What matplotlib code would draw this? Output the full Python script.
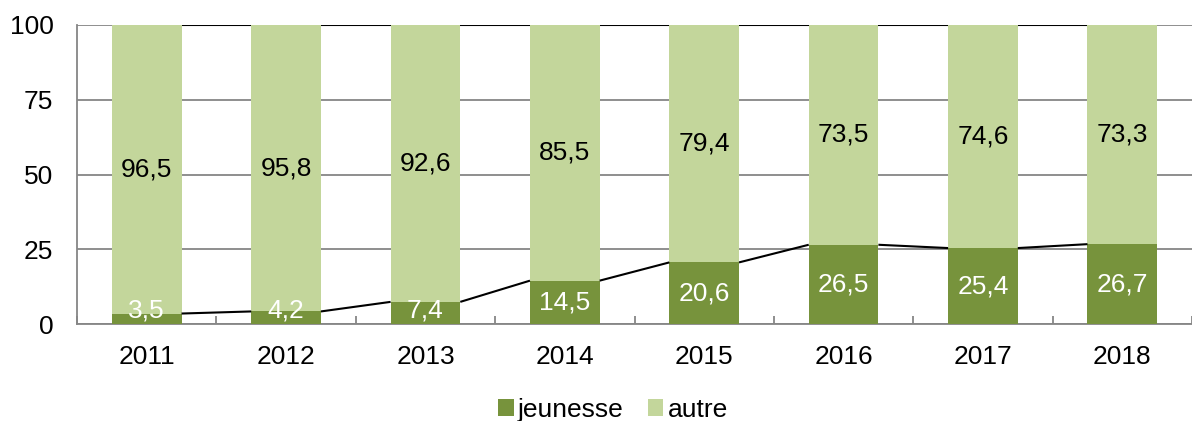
import numpy as np
import matplotlib
matplotlib.use('Agg')
import matplotlib.pyplot as plt

plt.rcParams['font.family'] = ['Liberation Sans', 'DejaVu Sans']

## data: share of youth titles vs. the rest, in percent
years = ['2011', '2012', '2013', '2014', '2015', '2016', '2017', '2018']
jeunesse = [3.5, 4.2, 7.4, 14.5, 20.6, 26.5, 25.4, 26.7]
autre = [96.5, 95.8, 92.6, 85.5, 79.4, 73.5, 74.6, 73.3]

dark = '#77933C'
light = '#C3D69B'
grey = '#868686'
fs = 19

fig = plt.figure(figsize=(11.92, 4.21), dpi=100)
ax = fig.add_axes([77 / 1192, 1 - 324 / 421, 1 - 77 / 1192, (324 - 25) / 421])

x = np.arange(len(years))
jeu = np.array(jeunesse)
tot = jeu + np.array(autre)
w = 0.5

ax.bar(x, jeunesse, w, color=dark, label='jeunesse', zorder=3)
ax.bar(x, autre, w, bottom=jeunesse, color=light, label='autre', zorder=3)

# series lines joining the segment tops of neighbouring bars
for top in (jeu, tot):
    for i in range(len(x) - 1):
        ax.plot([x[i] + w / 2, x[i + 1] - w / 2], [top[i], top[i + 1]],
                color='black', lw=1.5, zorder=4, solid_capstyle='butt')

# value labels
for i in range(len(x)):
    ax.text(x[i], max(jeunesse[i] / 2, 4.5), f'{jeunesse[i]:.1f}'.replace('.', ','),
            ha='center', va='center', color='white', fontsize=fs, zorder=5)
    ax.text(x[i], jeunesse[i] + autre[i] / 2, f'{autre[i]:.1f}'.replace('.', ','),
            ha='center', va='center', color='black', fontsize=fs, zorder=5)

ax.set_ylim(0, 100)
ax.set_xlim(-0.5, len(x) - 0.5)
ax.set_yticks([0, 25, 50, 75, 100])
ax.set_xticks(x)
ax.set_xticklabels(years)
ax.set_xticks(np.arange(-0.5, len(x), 1.0), minor=True)
ax.tick_params(axis='x', which='major', length=0, pad=15, labelsize=fs)
ax.tick_params(axis='x', which='minor', direction='in', length=6, width=1.3, color=grey)
ax.tick_params(axis='y', length=0, pad=17, labelsize=fs)

ax.grid(axis='y', color=grey, lw=1.3, zorder=0)
for s in ('top', 'right'):
    ax.spines[s].set_visible(False)
for s in ('left', 'bottom'):
    ax.spines[s].set_color(grey)
    ax.spines[s].set_linewidth(1.3)
    ax.spines[s].set_zorder(2)

fig.legend(loc='center', bbox_to_anchor=(613 / 1192, 1 - 410 / 421), ncol=2,
           frameon=False, fontsize=fs, handlelength=0.6, handleheight=0.6,
           handletextpad=0.15, columnspacing=0.9, borderpad=0)

fig.savefig('out.png', dpi=100)
